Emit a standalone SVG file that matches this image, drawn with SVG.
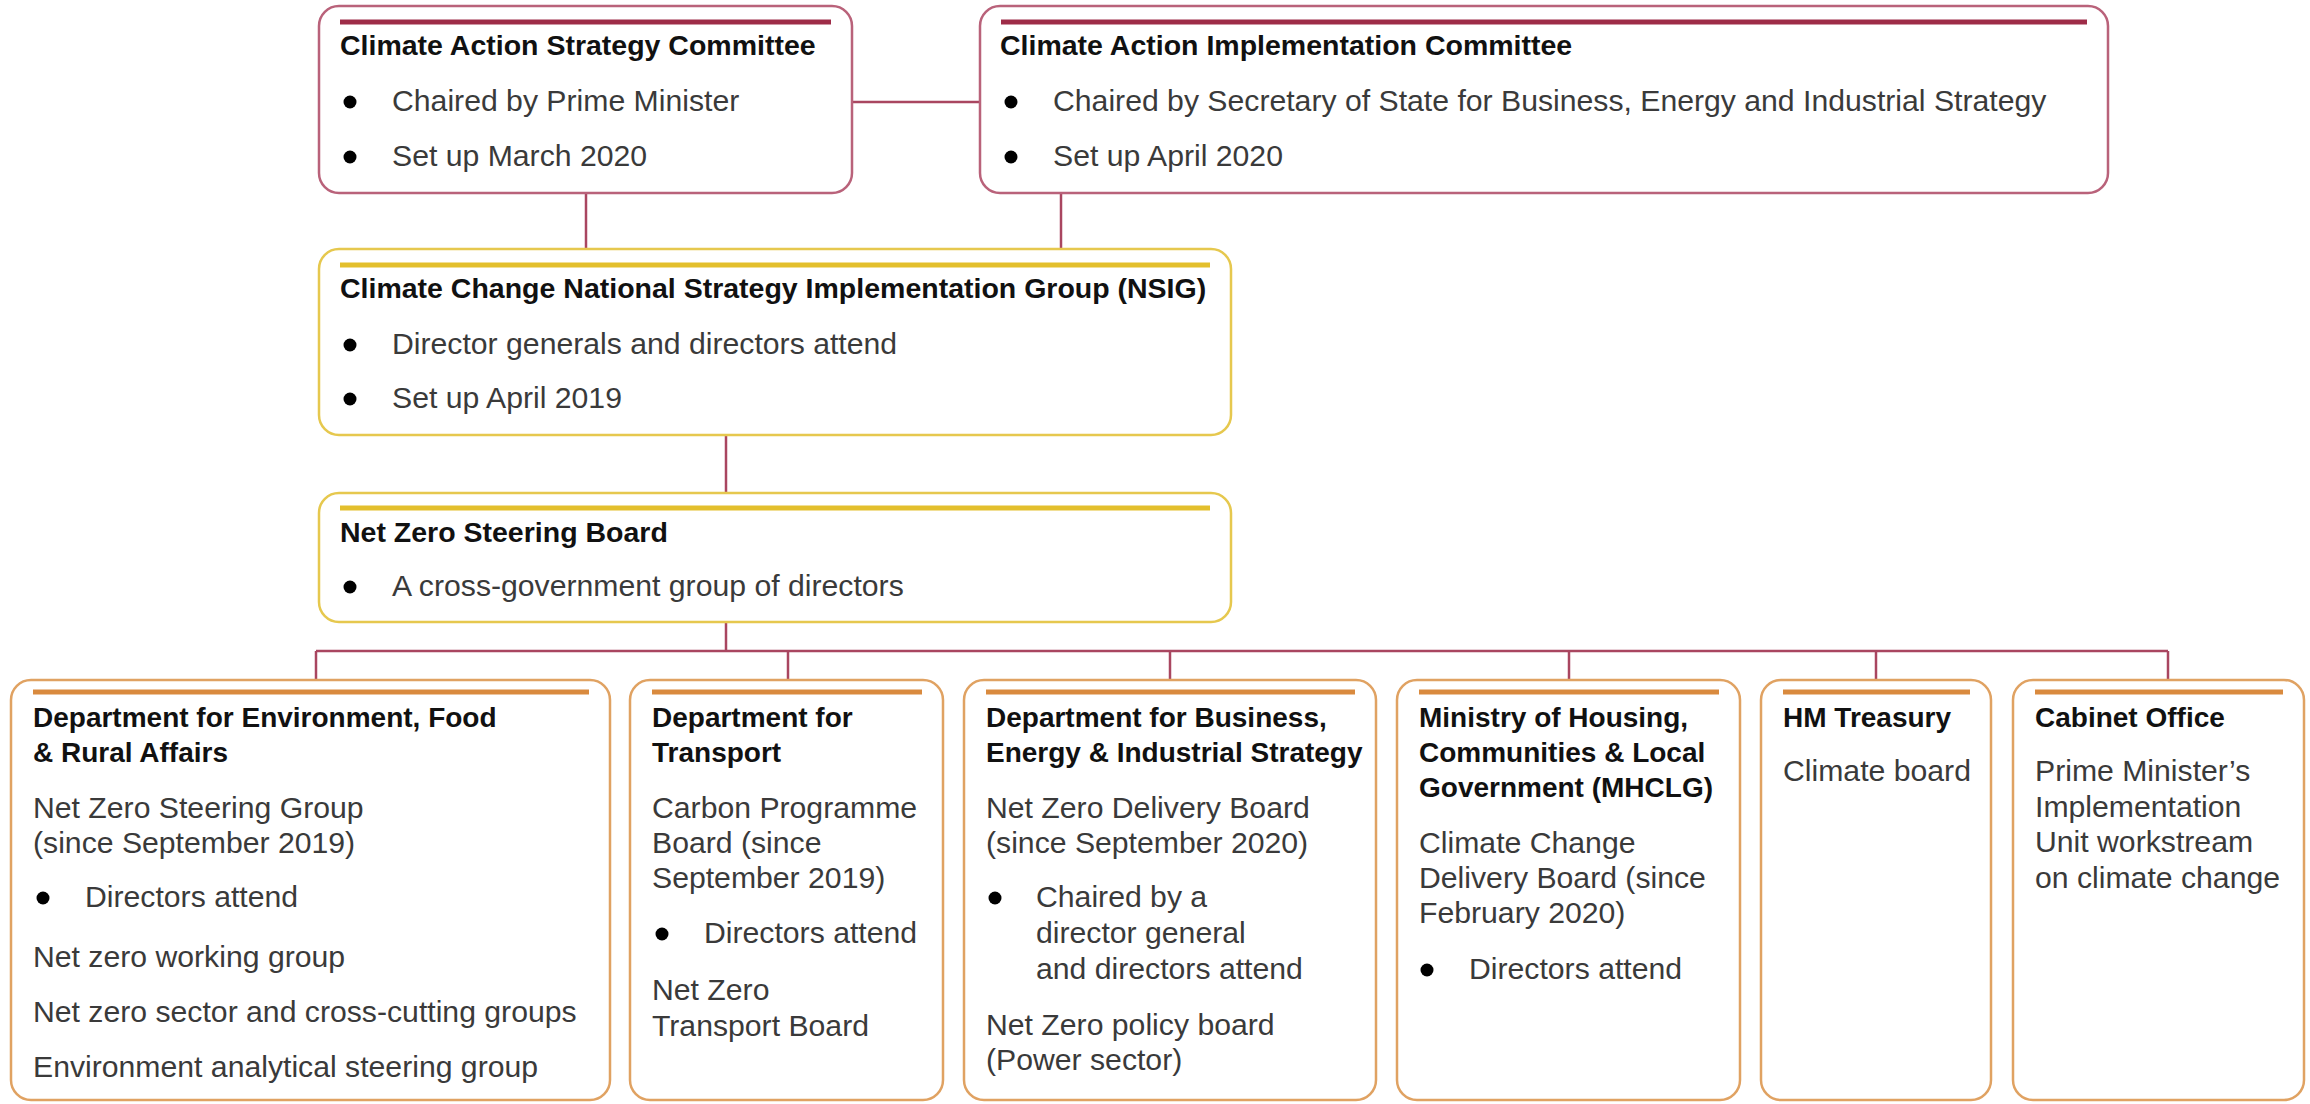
<svg xmlns="http://www.w3.org/2000/svg" width="2310" height="1104" viewBox="0 0 2310 1104">
<style>
.bg{fill:#ffffff}
.boxR{fill:#fff;stroke:#b9627a;stroke-width:2.5}
.boxY{fill:#fff;stroke:#e6c84e;stroke-width:2.5}
.boxO{fill:#fff;stroke:#e0a262;stroke-width:2.5}
.accR{stroke:#9e2c48;stroke-width:5}
.accY{stroke:#e3bf2c;stroke-width:5}
.accO{stroke:#d98a3e;stroke-width:5}
.con{fill:none;stroke:#a94660;stroke-width:2.5}
.t{font-family:'Liberation Sans',Arial,sans-serif;font-weight:bold;font-size:28.5px;fill:#111}
.ts{font-family:'Liberation Sans',Arial,sans-serif;font-weight:bold;font-size:28px;fill:#111}
.b{font-family:'Liberation Sans',Arial,sans-serif;font-size:30.2px;fill:#3a3a3a}
.dot{fill:#000}
</style>
<rect class="bg" x="0" y="0" width="2310" height="1104"/>
<g id="connectors">
<line class="con" x1="852" y1="102" x2="980" y2="102"/>
<line class="con" x1="586" y1="193" x2="586" y2="249"/>
<line class="con" x1="1061" y1="193" x2="1061" y2="249"/>
<line class="con" x1="726" y1="435" x2="726" y2="493"/>
<line class="con" x1="726" y1="622" x2="726" y2="651"/>
<line class="con" x1="316" y1="651" x2="2168" y2="651"/>
<line class="con" x1="316" y1="651" x2="316" y2="680"/>
<line class="con" x1="788" y1="651" x2="788" y2="680"/>
<line class="con" x1="1170" y1="651" x2="1170" y2="680"/>
<line class="con" x1="1569" y1="651" x2="1569" y2="680"/>
<line class="con" x1="1876" y1="651" x2="1876" y2="680"/>
<line class="con" x1="2168" y1="651" x2="2168" y2="680"/>
</g>
<g id="strategy-committee">
<rect class="boxR" x="319" y="6" width="533" height="187" rx="20"/>
<line class="accR" x1="340" y1="22" x2="831" y2="22"/>
<text class="t" x="340" y="55">Climate Action Strategy Committee</text>
<circle class="dot" cx="350" cy="102" r="6.5"/>
<text class="b" x="392" y="111">Chaired by Prime Minister</text>
<circle class="dot" cx="350" cy="157" r="6.5"/>
<text class="b" x="392" y="166">Set up March 2020</text>
</g>
<g id="implementation-committee">
<rect class="boxR" x="980" y="6" width="1128" height="187" rx="20"/>
<line class="accR" x1="1001" y1="22" x2="2087" y2="22"/>
<text class="t" x="1000" y="55">Climate Action Implementation Committee</text>
<circle class="dot" cx="1011" cy="102" r="6.5"/>
<text class="b" x="1053" y="111">Chaired by Secretary of State for Business, Energy and Industrial Strategy</text>
<circle class="dot" cx="1011" cy="157" r="6.5"/>
<text class="b" x="1053" y="166">Set up April 2020</text>
</g>
<g id="nsig">
<rect class="boxY" x="319" y="249" width="912" height="186" rx="20"/>
<line class="accY" x1="340" y1="265" x2="1210" y2="265"/>
<text class="t" x="340" y="298">Climate Change National Strategy Implementation Group (NSIG)</text>
<circle class="dot" cx="350" cy="345" r="6.5"/>
<text class="b" x="392" y="354">Director generals and directors attend</text>
<circle class="dot" cx="350" cy="399" r="6.5"/>
<text class="b" x="392" y="408">Set up April 2019</text>
</g>
<g id="net-zero-steering-board">
<rect class="boxY" x="319" y="493" width="912" height="129" rx="20"/>
<line class="accY" x1="340" y1="508" x2="1210" y2="508"/>
<text class="t" x="340" y="542">Net Zero Steering Board</text>
<circle class="dot" cx="350" cy="587" r="6.5"/>
<text class="b" x="392" y="596">A cross-government group of directors</text>
</g>
<g id="defra">
<rect class="boxO" x="11" y="680" width="599" height="420" rx="20"/>
<line class="accO" x1="33" y1="692" x2="589" y2="692"/>
<text class="ts" x="33" y="727">Department for Environment, Food</text>
<text class="ts" x="33" y="762">&amp; Rural Affairs</text>
<text class="b" x="33" y="818">Net Zero Steering Group</text>
<text class="b" x="33" y="853">(since September 2019)</text>
<circle class="dot" cx="43" cy="898" r="6.5"/>
<text class="b" x="85" y="907">Directors attend</text>
<text class="b" x="33" y="967">Net zero working group</text>
<text class="b" x="33" y="1022">Net zero sector and cross-cutting groups</text>
<text class="b" x="33" y="1077">Environment analytical steering group</text>
</g>
<g id="dft">
<rect class="boxO" x="630" y="680" width="313" height="420" rx="20"/>
<line class="accO" x1="652" y1="692" x2="922" y2="692"/>
<text class="ts" x="652" y="727">Department for</text>
<text class="ts" x="652" y="762">Transport</text>
<text class="b" x="652" y="818">Carbon Programme</text>
<text class="b" x="652" y="853">Board (since</text>
<text class="b" x="652" y="888">September 2019)</text>
<circle class="dot" cx="662" cy="934" r="6.5"/>
<text class="b" x="704" y="943">Directors attend</text>
<text class="b" x="652" y="1000">Net Zero</text>
<text class="b" x="652" y="1036">Transport Board</text>
</g>
<g id="beis">
<rect class="boxO" x="964" y="680" width="412" height="420" rx="20"/>
<line class="accO" x1="986" y1="692" x2="1355" y2="692"/>
<text class="ts" x="986" y="727">Department for Business,</text>
<text class="ts" x="986" y="762">Energy &amp; Industrial Strategy</text>
<text class="b" x="986" y="818">Net Zero Delivery Board</text>
<text class="b" x="986" y="853">(since September 2020)</text>
<circle class="dot" cx="995" cy="898" r="6.5"/>
<text class="b" x="1036" y="907">Chaired by a</text>
<text class="b" x="1036" y="943">director general</text>
<text class="b" x="1036" y="979">and directors attend</text>
<text class="b" x="986" y="1035">Net Zero policy board</text>
<text class="b" x="986" y="1070">(Power sector)</text>
</g>
<g id="mhclg">
<rect class="boxO" x="1397" y="680" width="343" height="420" rx="20"/>
<line class="accO" x1="1419" y1="692" x2="1719" y2="692"/>
<text class="ts" x="1419" y="727">Ministry of Housing,</text>
<text class="ts" x="1419" y="762">Communities &amp; Local</text>
<text class="ts" x="1419" y="797">Government (MHCLG)</text>
<text class="b" x="1419" y="853">Climate Change</text>
<text class="b" x="1419" y="888">Delivery Board (since</text>
<text class="b" x="1419" y="923">February 2020)</text>
<circle class="dot" cx="1427" cy="970" r="6.5"/>
<text class="b" x="1469" y="979">Directors attend</text>
</g>
<g id="hm-treasury">
<rect class="boxO" x="1761" y="680" width="230" height="420" rx="20"/>
<line class="accO" x1="1783" y1="692" x2="1970" y2="692"/>
<text class="ts" x="1783" y="727">HM Treasury</text>
<text class="b" x="1783" y="781">Climate board</text>
</g>
<g id="cabinet-office">
<rect class="boxO" x="2013" y="680" width="291" height="420" rx="20"/>
<line class="accO" x1="2035" y1="692" x2="2283" y2="692"/>
<text class="ts" x="2035" y="727">Cabinet Office</text>
<text class="b" x="2035" y="781">Prime Minister’s</text>
<text class="b" x="2035" y="817">Implementation</text>
<text class="b" x="2035" y="852">Unit workstream</text>
<text class="b" x="2035" y="888">on climate change</text>
</g>
</svg>
